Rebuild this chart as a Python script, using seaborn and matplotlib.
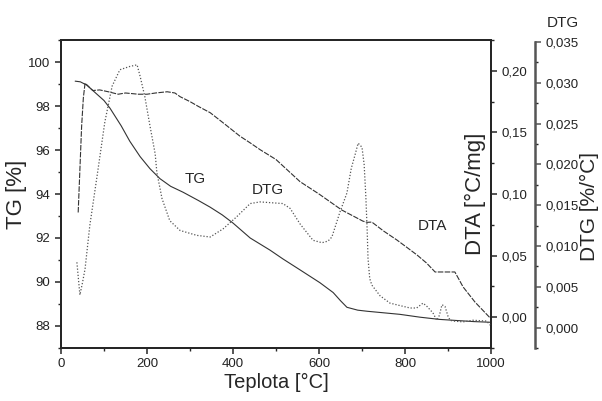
import numpy as np
import pandas as pd
import seaborn as sns
import matplotlib
matplotlib.use("Agg")
import matplotlib.pyplot as plt
from matplotlib.ticker import MultipleLocator, FuncFormatter

# TG krivka
tg_temp = [33, 45, 60, 80, 100, 114, 140, 160, 184, 207, 230, 255, 284, 320, 347, 375, 400,
           440, 486, 516, 556, 602, 633, 650, 665, 690, 712, 750, 788, 835, 880, 920, 960, 998]
tg_val = [99.13, 99.10, 98.95, 98.6, 98.25, 97.9, 97.1, 96.4, 95.7, 95.15, 94.7, 94.35, 94.08,
          93.7, 93.4, 93.05, 92.68, 92.0, 91.45, 91.05, 90.55, 89.97, 89.52, 89.15, 88.85,
          88.72, 88.67, 88.6, 88.53, 88.4, 88.3, 88.25, 88.2, 88.17]

# DTA krivka
dta_temp = [40, 44, 48, 52, 56, 65, 74, 90, 110, 133, 150, 180, 200, 220, 247, 265, 277, 300,
            320, 347, 380, 416, 440, 463, 500, 556, 600, 653, 702, 712, 723, 750, 781, 805,
            828, 850, 870, 916, 925, 935, 963, 998]
dta_val = [0.085, 0.12, 0.155, 0.178, 0.190, 0.187, 0.184, 0.1845, 0.183, 0.181, 0.182, 0.181,
           0.181, 0.182, 0.183, 0.182, 0.179, 0.175, 0.171, 0.166, 0.157, 0.147, 0.1415, 0.136,
           0.128, 0.110, 0.100, 0.087, 0.078, 0.077, 0.0772, 0.070, 0.0627, 0.0565, 0.0505,
           0.044, 0.0367, 0.0367, 0.031, 0.0246, 0.0122, -0.0006]

# DTG krivka
dtg_temp = [37, 44, 50, 56, 67, 84, 102, 119, 137, 160, 177, 184, 195, 207, 219, 223, 235, 253,
            277, 316, 347, 377, 409, 440, 463, 516, 533, 556, 586, 607, 621, 630, 649, 665,
            675, 684, 691, 700, 705, 709, 712, 714, 718, 723, 742, 765, 788, 812, 827, 842,
            851, 865, 874, 880, 886, 893, 900, 905, 912, 935, 958, 990, 998]
dtg_val = [0.0080, 0.0040, 0.0055, 0.0072, 0.0125, 0.0186, 0.0252, 0.0296, 0.0316, 0.0320,
           0.0322, 0.0308, 0.0283, 0.0247, 0.0213, 0.0190, 0.0158, 0.0131, 0.0119, 0.0113,
           0.0111, 0.0121, 0.0136, 0.0152, 0.0154, 0.0152, 0.0146, 0.0127, 0.0107, 0.0104,
           0.0106, 0.0111, 0.0142, 0.0165, 0.0195, 0.0212, 0.0226, 0.0221, 0.0200, 0.0160,
           0.0120, 0.0085, 0.0060, 0.0052, 0.0039, 0.0030, 0.0027, 0.0024, 0.0024, 0.0030,
           0.0026, 0.0018, 0.0009, 0.0015, 0.0028, 0.0026, 0.0014, 0.0009, 0.0008, 0.0007,
           0.0009, 0.0008, 0.0003]

sns.set_theme(style="ticks")
plt.rcParams["font.family"] = ["Liberation Sans", "DejaVu Sans"]
plt.rcParams["axes.linewidth"] = 1.4

fig = plt.figure(figsize=(6.02, 4.01), dpi=100)
ax = fig.add_axes([0.1013, 0.1322, 0.7143, 0.768])
ax2 = ax.twinx()
ax3 = ax.twinx()

tg = pd.DataFrame({"t": tg_temp, "v": tg_val})
dta = pd.DataFrame({"t": dta_temp, "v": dta_val})
dtg = pd.DataFrame({"t": dtg_temp, "v": dtg_val})

sns.lineplot(data=tg, x="t", y="v", ax=ax, color="#333333", lw=0.8, estimator=None)
sns.lineplot(data=dta, x="t", y="v", ax=ax2, color="#333333", lw=0.8, estimator=None,
             linestyle=(0, (5, 1.2)))
sns.lineplot(data=dtg, x="t", y="v", ax=ax3, color="#555555", lw=0.9, estimator=None,
             linestyle=(0, (1, 1.5)))

# osa x a TG
ax.set_xlim(0, 1000)
ax.set_ylim(87, 101)
ax.xaxis.set_major_locator(MultipleLocator(200))
ax.xaxis.set_minor_locator(MultipleLocator(100))
ax.yaxis.set_major_locator(MultipleLocator(2))
ax.yaxis.set_minor_locator(MultipleLocator(1))
ax.set_xlabel("Teplota [°C]", fontsize=14.5, labelpad=2)
ax.set_ylabel("TG [%]", fontsize=16, labelpad=1)

# DTA
ax2.set_ylim(-0.025, 0.225)
ax2.yaxis.set_major_locator(MultipleLocator(0.05))
ax2.yaxis.set_minor_locator(MultipleLocator(0.025))
ax2.yaxis.set_major_formatter(FuncFormatter(lambda v, p: f"{v:.2f}".replace(".", ",").replace("-0,00", "0,00")))
ax2.set_ylabel("DTA [°C/mg]", fontsize=16)
ax2.yaxis.set_label_coords(0.94, 0.5)

# DTG
ax3.set_ylim(-0.0025, 0.03524)
ax3.spines["right"].set_position(("outward", 32))
ax3.spines["right"].set_bounds(-0.0025, 0.035)
ax3.spines["right"].set_color("#555555")
ax3.spines["right"].set_linewidth(1.8)
ax3.spines["top"].set_visible(False)
ax3.yaxis.set_major_locator(MultipleLocator(0.005))
ax3.yaxis.set_minor_locator(MultipleLocator(0.0025))
ax3.yaxis.set_major_formatter(FuncFormatter(lambda v, p: f"{v:.3f}".replace(".", ",").replace("-0,000", "0,000")))
ax3.tick_params(axis="y", colors="#555555", labelcolor="#222222")
ax3.set_ylabel("DTG [%/°C]", fontsize=15)
ax3.yaxis.set_label_coords(1.208, 0.46)

for a in (ax, ax2, ax3):
    a.tick_params(which="major", length=4, width=1.1, labelsize=9.5, labelcolor="#222222")
    a.tick_params(which="minor", length=2.5, width=1.0)

ax.text(312, 94.7, "TG", fontsize=11, ha="center", va="center")
ax.text(481, 94.17, "DTG", fontsize=11, ha="center", va="center")
ax.text(863, 92.54, "DTA", fontsize=11, ha="center", va="center")
fig.text(563 / 602, 1 - 23 / 401, "DTG", fontsize=11, ha="center", va="center")

fig.savefig("out.png", dpi=100)
